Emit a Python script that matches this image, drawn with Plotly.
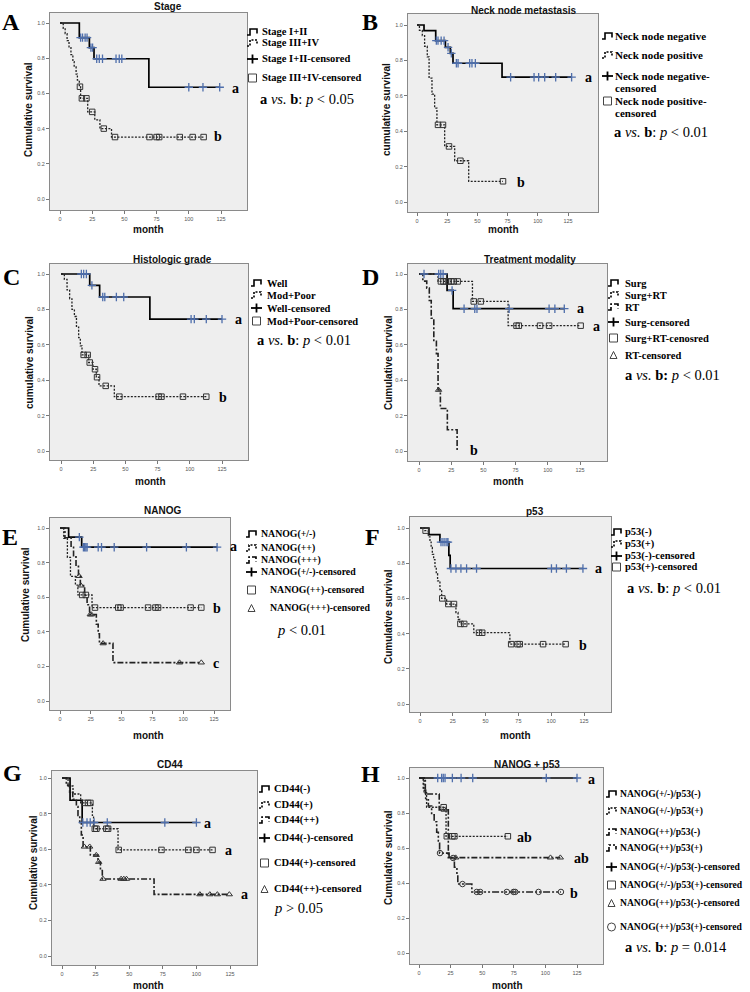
import plotly.graph_objects as go

W, H = 750, 992
def px(x): return x / W
def py(y): return 1 - y / H

# ---------------- DATA (event times t, survival after event s, censor times c) -------------
# A: Stage
A1_t = [15, 22.8, 26.4, 69]
A1_s = [0.917, 0.86, 0.797, 0.635]
A1_c = [16, 17.5, 19.5, 21, 24, 25.3, 28.5, 30.5, 33, 43.5, 46, 48, 100, 111, 124]
A2_t = [2.5, 4, 5.5, 7, 8.5, 10, 11, 12.5, 13.5, 15, 16, 21.5, 27, 31, 40]
A2_s = [0.97, 0.94, 0.90, 0.86, 0.82, 0.78, 0.75, 0.71, 0.675, 0.638, 0.572, 0.495, 0.45, 0.40, 0.352]
A2_c = [15.5, 17, 20.5, 25, 34, 42.7, 69.5, 75, 77, 93, 103, 111.5]
# B: Neck node metastasis
B1_t = [5.8, 15.5, 23.5, 27.6, 29.8, 70.4]
B1_s = [0.968, 0.912, 0.874, 0.84, 0.784, 0.705]
B1_c = [16, 17.4, 20, 22.4, 25.7, 28.4, 32.6, 34, 43.6, 45.5, 48.3, 77.5, 96.9, 100.7, 105.7, 114.8, 128]
B2_t = [2, 4.4, 6.3, 8.5, 10, 12.4, 14.6, 16.5, 22.9, 31.2, 42.8]
B2_s = [0.97, 0.94, 0.88, 0.82, 0.70, 0.61, 0.53, 0.436, 0.314, 0.233, 0.117]
B2_c = [17.4, 21.5, 26.5, 35.9, 71.2]
# C: Histologic grade
C1_t = [22.3, 30, 69]
C1_s = [0.936, 0.87, 0.745]
C1_c = [15.8, 17.6, 19.7, 24, 32.4, 34, 43, 48.7, 101, 103.5, 112.8, 125]
C2_t = [2.6, 4.7, 6.7, 8.5, 10.4, 12, 13.7, 15, 16.3, 21.5, 24.8, 27.4, 29.5, 41.4]
C2_s = [0.97, 0.91, 0.86, 0.80, 0.76, 0.70, 0.64, 0.594, 0.543, 0.50, 0.462, 0.417, 0.368, 0.307]
C2_c = [17.6, 20.7, 22.3, 26.4, 28, 34.7, 45.3, 75.8, 78, 94.7, 112.8]
# D: Treatment modality
D1_t = [21.8, 26.5]
D1_s = [0.907, 0.804]
D1_c = [3.9, 15.3, 16.9, 18.7, 25.7, 35, 43.3, 45, 70, 101, 105.5, 112.8]
D2_t = [14.8, 41.5, 69.2]
D2_s = [0.958, 0.845, 0.708]
D2_c = [17, 19, 21, 23, 25, 27, 30, 42.5, 48, 75.7, 77.5, 94, 101, 125.5]
D3_t = [3, 6, 8, 9.5, 11.5, 13.5, 14.8, 16.6, 22, 29.6]
D3_s = [0.96, 0.92, 0.85, 0.75, 0.62, 0.55, 0.345, 0.24, 0.12, 0.0]
D3_c = [15.2]
# E: NANOG
E1_t = [7, 17.6]
E1_s = [0.947, 0.889]
E1_c = [15.7, 19, 20, 21, 22, 31, 33.7, 44, 70.3, 102.6, 127.5]
E2_t = [3, 6, 8.5, 12.5, 14.5, 26]
E2_s = [0.94, 0.83, 0.72, 0.67, 0.613, 0.54]
E2_c = [18, 21, 28.4, 47.3, 49.2, 71.5, 77.5, 79.6, 106, 114.7]
E3_t = [4, 9, 11, 13, 15, 16.5, 20, 22, 24, 29.5, 31, 32, 43]
E3_s = [0.944, 0.889, 0.833, 0.778, 0.722, 0.667, 0.611, 0.556, 0.50, 0.444, 0.389, 0.333, 0.222]
E3_c = [15.5, 17, 24.5, 25.5, 35, 97, 114.7]
# F: p53
F1_t = [6.8, 15.2, 22, 23]
F1_s = [0.962, 0.92, 0.845, 0.77]
F1_c = [16, 17.5, 19, 20.5, 21.3, 23.6, 27.4, 31.2, 35.5, 43.1, 100.2, 104, 111.6, 124.2]
F2_t = [3.5, 6.3, 7.6, 8.5, 9.4, 10.4, 11.4, 12.4, 13.4, 15.2, 16.5, 20.3, 27.4, 29, 30.4, 41, 68.5]
F2_s = [0.985, 0.95, 0.92, 0.89, 0.85, 0.82, 0.78, 0.74, 0.70, 0.65, 0.60, 0.568, 0.52, 0.48, 0.455, 0.405, 0.34]
F2_c = [4.3, 17, 21.6, 25.9, 30.8, 33.7, 45, 47.4, 69.5, 74.3, 76, 93.8, 111]
# G: CD44
G1_t = [6, 15]
G1_s = [0.875, 0.75]
G1_c = [15.5, 18.6, 21, 23.9, 33.7, 76.5, 100]
G2_t = [4.5, 8.2, 13.9, 22.6, 23.5, 41.7]
G2_s = [0.955, 0.91, 0.86, 0.79, 0.715, 0.596]
G2_c = [16.9, 19.4, 21.1, 24.4, 25.6, 33, 34.3, 42.2, 74, 94, 100, 112]
G3_t = [3.2, 5.7, 8, 10.7, 11.9, 13.2, 14.4, 15.7, 21.1, 26.8, 28.6, 30, 68.5]
G3_s = [0.96, 0.92, 0.88, 0.84, 0.79, 0.75, 0.68, 0.614, 0.567, 0.528, 0.48, 0.433, 0.346]
G3_c = [16.6, 20.6, 25.5, 27.3, 30.5, 44, 46, 48, 102.6, 110, 115.6, 124.5]
# H: NANOG + p53
H1_t = []
H1_s = []
H1_c = [14.8, 17.9, 19.2, 20.6, 26.4, 33.3, 42.5, 100.7, 125]
H2_t = [4, 6, 21.4]
H2_s = [0.917, 0.833, 0.667]
H2_c = [19.5, 22, 26.4, 28, 70.3]
H3_t = [5, 16, 23.2]
H3_s = [0.909, 0.818, 0.545]
H3_c = [20, 29, 104, 111.8]
H4_t = [3.4, 5.3, 7.4, 10, 12, 14, 15.3, 16.3, 23.8, 28, 30, 30.7, 41.8]
H4_s = [0.93, 0.876, 0.84, 0.79, 0.75, 0.69, 0.64, 0.571, 0.543, 0.49, 0.448, 0.394, 0.349]
H4_c = [16.6, 27, 34.4, 45.7, 48.4, 69.5, 74.8, 76.1, 94.6, 112.3]

X_TICKS = [0, 25, 50, 75, 100, 125]
Y_TICKS = [0.0, 0.2, 0.4, 0.6, 0.8, 1.0]

# ---------------- styles ----------------
LINE = {
    'solid': dict(color='black', width=1.7, dash='solid'),
    'dot': dict(color='#222', width=1.3, dash='2px,1.5px'),
    'dashdot': dict(color='#222', width=1.6, dash='6px,2px,2px,2px'),
    'ldd': dict(color='#222', width=1.6, dash='7px,2px,2px,2px,2px,2px'),
}
MARK = {
    'plus': dict(symbol='cross-thin', size=6, color='#4e6eab', line=dict(width=1.3, color='#4e6eab')),
    'square': dict(symbol='square-open', size=5.5, color='#333', line=dict(width=1)),
    'tri': dict(symbol='triangle-up-open', size=5.5, color='#333', line=dict(width=1)),
    'circle': dict(symbol='circle-open', size=5.5, color='#333', line=dict(width=1)),
}

def ptxt(v):
    return "<b>a</b> <i>vs.</i> <b>b</b>: <i>p</i> " + v

panels = [
    dict(frame=(50, 247, 13, 210), cal=(60, 221, 23, 199), title=('Stage', 168, 6), letter=('A', 11, 22),
         ytitle=('Cumulative survival', 29, 110), month=(148, 230),
         curves=[(A1_t, A1_s, A1_c, 'solid', 'plus'), (A2_t, A2_s, A2_c, 'dot', 'square')],
         gx=247, fs=10.5,
         legend=[(32, 'Stage I+II', 'solid', 260), (43, 'Stage III+IV', 'dot', 260),
                 (59, 'Stage I+II-censored', 'plus', 260), (78, 'Stage III+IV-censored', 'square', 260)],
         ptext=(258, 99, ptxt('&lt; 0.05')), labels=[('a', 230, 88), ('b', 212, 137)]),
    dict(frame=(408, 598, 14, 212), cal=(417, 568, 25, 202), title=('Neck node metastasis', 523, 10), letter=('B', 370, 22),
         ytitle=('cumulative survival', 387, 110), month=(503, 230),
         curves=[(B1_t, B1_s, B1_c, 'solid', 'plus'), (B2_t, B2_s, B2_c, 'dot', 'square')],
         gx=602, fs=11,
         legend=[(36, 'Neck node negative', 'solid', 613), (55, 'Neck node positive', 'dot', 613),
                 (76, 'Neck node negative-', 'plus', 613), (88, 'censored', None, 613),
                 (101, 'Neck node positive-', 'square', 613), (113, 'censored', None, 613)],
         ptext=(612, 132, ptxt('&lt; 0.01')), labels=[('a', 583, 77), ('b', 515, 183)]),
    dict(frame=(50, 248, 264, 460), cal=(61, 222, 274, 451), title=('Histologic grade', 172, 259), letter=('C', 11, 277),
         ytitle=('cumulative survival', 29, 363), month=(150, 482),
         curves=[(C1_t, C1_s, C1_c, 'solid', 'plus'), (C2_t, C2_s, C2_c, 'dot', 'square')],
         gx=251, fs=10.5,
         legend=[(283, 'Well', 'solid', 265), (295, 'Mod+Poor', 'dot', 265),
                 (308, 'Well-censored', 'plus', 265), (321, 'Mod+Poor-censored', 'square', 265)],
         ptext=(255, 340, ptxt('&lt; 0.01')), labels=[('a', 233, 320), ('b', 217, 398)]),
    dict(frame=(408, 607, 264, 461), cal=(419, 580, 274, 451), title=('Treatment modality', 530, 259), letter=('D', 370, 277),
         ytitle=('Cumulative survival', 388, 363), month=(508, 482),
         curves=[(D1_t, D1_s, D1_c, 'solid', 'plus'), (D2_t, D2_s, D2_c, 'dot', 'square'),
                 (D3_t, D3_s, D3_c, 'dashdot', 'tri')],
         gx=608, fs=10.5,
         legend=[(283, 'Surg', 'solid', 623), (295, 'Surg+RT', 'dot', 623), (307, 'RT', 'dashdot', 623),
                 (322, 'Surg-censored', 'plus', 623), (338, 'Surg+RT-cenosred', 'square', 623),
                 (355, 'RT-censored', 'tri', 623)],
         ptext=(623, 375, "<b>a</b> <i>vs.</i> <b>b:</b> <i>p</i> &lt; 0.01"),
         labels=[('a', 575, 308), ('a', 591, 326), ('b', 468, 451)]),
    dict(frame=(50, 230, 518, 710), cal=(60, 214, 528, 701), title=('NANOG', 162, 510), letter=('E', 10, 537),
         ytitle=('Cumulative survival', 25, 595), month=(148, 735),
         curves=[(E1_t, E1_s, E1_c, 'solid', 'plus'), (E2_t, E2_s, E2_c, 'dot', 'square'),
                 (E3_t, E3_s, E3_c, 'dashdot', 'tri')],
         gx=246, fs=9.8,
         legend=[(534, 'NANOG(+/-)', 'solid', 259), (548, 'NANOG(++)', 'dot', 259), (560, 'NANOG(+++)', 'dashdot', 259),
                 (572, 'NANOG(+/-)-censored', 'plus', 259), (590, 'NANOG(++)-censored', 'square', 268),
                 (608, 'NANOG(+++)-censored', 'tri', 268)],
         ptext=(275, 630, "<i>p</i> &lt; 0.01"),
         labels=[('a', 228, 546), ('b', 211, 608), ('c', 211, 663)]),
    dict(frame=(410, 611, 517, 712), cal=(420, 584, 528, 704), title=('p53', 535, 511), letter=('F', 372, 537),
         ytitle=('Cumulative survival', 388, 617), month=(515, 735),
         curves=[(F1_t, F1_s, F1_c, 'solid', 'plus'), (F2_t, F2_s, F2_c, 'dot', 'square')],
         gx=611, fs=10.5,
         legend=[(532, 'p53(-)', 'solid', 623), (544, 'p53(+)', 'dot', 623),
                 (556, 'p53(-)-censored', 'plus', 623), (567, 'p53(+)-censored', 'square', 623)],
         ptext=(625, 588, ptxt('&lt; 0.01')), labels=[('a', 593, 568), ('b', 577, 645)]),
    dict(frame=(52, 257, 771, 965), cal=(62, 230, 778, 956), title=('CD44', 170, 764), letter=('G', 12, 773),
         ytitle=('Cumulative survival', 33, 863), month=(148, 985),
         curves=[(G1_t, G1_s, G1_c, 'solid', 'plus'), (G2_t, G2_s, G2_c, 'dot', 'square'),
                 (G3_t, G3_s, G3_c, 'dashdot', 'tri')],
         gx=259, fs=10.5,
         legend=[(789, 'CD44(-)', 'solid', 272), (805, 'CD44(+)', 'dot', 272), (820, 'CD44(++)', 'dashdot', 272),
                 (838, 'CD44(-)-censored', 'plus', 272), (863, 'CD44(+)-censored', 'square', 272),
                 (889, 'CD44(++)-censored', 'tri', 272)],
         ptext=(272, 908, "<i>p</i> &gt; 0.05"),
         labels=[('a', 202, 823), ('a', 223, 850), ('a', 239, 894)]),
    dict(frame=(410, 603, 768, 964), cal=(419, 577, 778, 953), title=('NANOG + p53', 527, 764), letter=('H', 370, 774),
         ytitle=('Cumulative survival', 388, 858), month=(507, 985),
         curves=[(H1_t, H1_s, H1_c, 'solid', 'plus'), (H2_t, H2_s, H2_c, 'dot', 'square'),
                 (H3_t, H3_s, H3_c, 'dashdot', 'tri'), (H4_t, H4_s, H4_c, 'ldd', 'circle')],
         gx=606, fs=9.6,
         legend=[(794, 'NANOG(+/-)/p53(-)', 'solid', 618), (811, 'NANOG(+/-)/p53(+)', 'dot', 618),
                 (832, 'NANOG(++)/p53(-)', 'dashdot', 618), (848, 'NANOG(++)/p53(+)', 'ldd', 618),
                 (867, 'NANOG(+/-)/p53(-)-censored', 'plus', 618), (885, 'NANOG(+/-)/p53(+)-censored', 'square', 618),
                 (903, 'NANOG(++)/p53(-)-censored', 'tri', 618), (927, 'NANOG(++)/p53(+)-censored', 'circle', 618)],
         ptext=(623, 947, ptxt('= 0.014')),
         labels=[('a', 586, 779), ('ab', 515, 837), ('ab', 572, 858), ('b', 568, 893)]),
]

def km_xy(t, s, c):
    xs, ys = [0.0], [1.0]
    for ti, si in zip(t, s):
        xs.append(ti)
        ys.append(si)
    end = max([0] + list(t) + list(c))
    if end > xs[-1]:
        xs.append(end)
        ys.append(ys[-1])
    return xs, ys

def surv_at(t, s, time):
    v = 1.0
    for ti, si in zip(t, s):
        if ti <= time:
            v = si
    return v

fig = go.Figure()
shapes = []
ann = []
SERIF = 'Liberation Serif'
SANS = 'Liberation Sans'

def glyph(kind, x, y):
    if kind is None:
        return
    if kind in LINE:
        st = LINE[kind]
        pts = [(x, y + 3), (x + 3, y + 3), (x + 3, y - 3), (x + 10, y - 3), (x + 10, y + 1.5)]
        path = 'M ' + ' L '.join(f'{px(a):.5f},{py(b):.5f}' for a, b in pts)
        shapes.append(dict(type='path', xref='paper', yref='paper', path=path,
                           line=dict(color='black', width=1.6, dash=st['dash'])))
    elif kind == 'plus':
        shapes.append(dict(type='line', xref='paper', yref='paper', x0=px(x), x1=px(x + 11), y0=py(y), y1=py(y),
                           line=dict(color='black', width=1.8)))
        shapes.append(dict(type='line', xref='paper', yref='paper', x0=px(x + 5.5), x1=px(x + 5.5), y0=py(y - 4.5), y1=py(y + 4.5),
                           line=dict(color='black', width=1.8)))
    elif kind == 'square':
        shapes.append(dict(type='rect', xref='paper', yref='paper', x0=px(x + 1.5), x1=px(x + 9.5), y0=py(y + 4), y1=py(y - 4),
                           line=dict(color='#444', width=1)))
    elif kind == 'tri':
        pts = [(x + 2, y + 3.5), (x + 9, y + 3.5), (x + 5.5, y - 3.5)]
        path = 'M ' + ' L '.join(f'{px(a):.5f},{py(b):.5f}' for a, b in pts) + ' Z'
        shapes.append(dict(type='path', xref='paper', yref='paper', path=path, line=dict(color='#444', width=1)))
    elif kind == 'circle':
        shapes.append(dict(type='circle', xref='paper', yref='paper', x0=px(x + 1.5), x1=px(x + 9.5), y0=py(y + 4), y1=py(y - 4),
                           line=dict(color='#444', width=1)))

layout_axes = {}
for i, p in enumerate(panels, start=1):
    L, R, T, B = p['frame']
    x0p, x125p, y1p, y0p = p['cal']
    sx = (x125p - x0p) / 125.0
    sy = (y0p - y1p) / 1.0
    xr = [0 - (x0p - L) / sx, 125 + (R - x125p) / sx]
    yr = [0 - (B - y0p) / sy, 1 + (y1p - T) / sy]
    xa = 'xaxis' if i == 1 else f'xaxis{i}'
    ya = 'yaxis' if i == 1 else f'yaxis{i}'
    xref = 'x' if i == 1 else f'x{i}'
    yref = 'y' if i == 1 else f'y{i}'
    common = dict(showline=True, linecolor='#8a8a8a', linewidth=1, mirror=True, showgrid=False, zeroline=False,
                  ticks='outside', ticklen=3, tickcolor='#777', tickwidth=1, fixedrange=True,
                  tickfont=dict(family=SANS, size=5.5, color='#555'))
    layout_axes[xa] = dict(domain=[px(L), px(R)], range=xr, anchor=yref, tickvals=X_TICKS, **common)
    layout_axes[ya] = dict(domain=[py(B), py(T)], range=yr, anchor=xref, tickvals=Y_TICKS, tickformat='.1f', **common)

    for (t, s, c, ls, mk) in p['curves']:
        xs, ys = km_xy(t, s, c)
        fig.add_trace(go.Scatter(x=xs, y=ys, mode='lines', line=dict(shape='hv', **LINE[ls]),
                                 xaxis=xref, yaxis=yref, showlegend=False, hoverinfo='skip'))
    for (t, s, c, ls, mk) in p['curves']:
        cy = [surv_at(t, s, ci) for ci in c]
        fig.add_trace(go.Scatter(x=c, y=cy, mode='markers', marker=MARK[mk],
                                 xaxis=xref, yaxis=yref, showlegend=False, hoverinfo='skip'))

    tt, tx, ty = p['title']
    ann.append(dict(text=f'<b>{tt}</b>', x=px(tx), y=py(ty), xref='paper', yref='paper', showarrow=False,
                    xanchor='center', yanchor='middle', font=dict(family=SANS, size=10, color='#111')))
    lt, lx, ly = p['letter']
    ann.append(dict(text=f'<b>{lt}</b>', x=px(lx), y=py(ly), xref='paper', yref='paper', showarrow=False,
                    xanchor='center', yanchor='middle', font=dict(family=SERIF, size=24, color='black')))
    yt, ytx, yty = p['ytitle']
    ann.append(dict(text=f'<b>{yt}</b>', x=px(ytx), y=py(yty), xref='paper', yref='paper', showarrow=False,
                    textangle=-90, xanchor='center', yanchor='middle', font=dict(family=SANS, size=10, color='#111')))
    mx, my = p['month']
    ann.append(dict(text='<b>month</b>', x=px(mx), y=py(my), xref='paper', yref='paper', showarrow=False,
                    xanchor='center', yanchor='middle', font=dict(family=SANS, size=10, color='#111')))
    for (ly_, text, g, tx_) in p['legend']:
        glyph(g, p['gx'], ly_)
        ann.append(dict(text=f'<b>{text}</b>', x=px(tx_), y=py(ly_), xref='paper', yref='paper', showarrow=False,
                        xanchor='left', yanchor='middle', font=dict(family=SERIF, size=p['fs'], color='black')))
    ptx, pty, ptt = p['ptext']
    ann.append(dict(text=ptt, x=px(ptx), y=py(pty), xref='paper', yref='paper', showarrow=False,
                    xanchor='left', yanchor='middle', font=dict(family=SERIF, size=14.5, color='black')))
    for (lab, lx_, ly_) in p['labels']:
        ann.append(dict(text=f'<b>{lab}</b>', x=px(lx_), y=py(ly_), xref='paper', yref='paper', showarrow=False,
                        xanchor='left', yanchor='middle', font=dict(family=SERIF, size=14, color='black')))

fig.update_layout(width=W, height=H, margin=dict(l=0, r=0, t=0, b=0), paper_bgcolor='white',
                  plot_bgcolor='#eeeeee', showlegend=False, annotations=ann, shapes=shapes, **layout_axes)

fig.write_html('out.html', config={'displayModeBar': False, 'staticPlot': True},
               post_script="document.body.style.margin='0';document.body.style.overflow='hidden';")
